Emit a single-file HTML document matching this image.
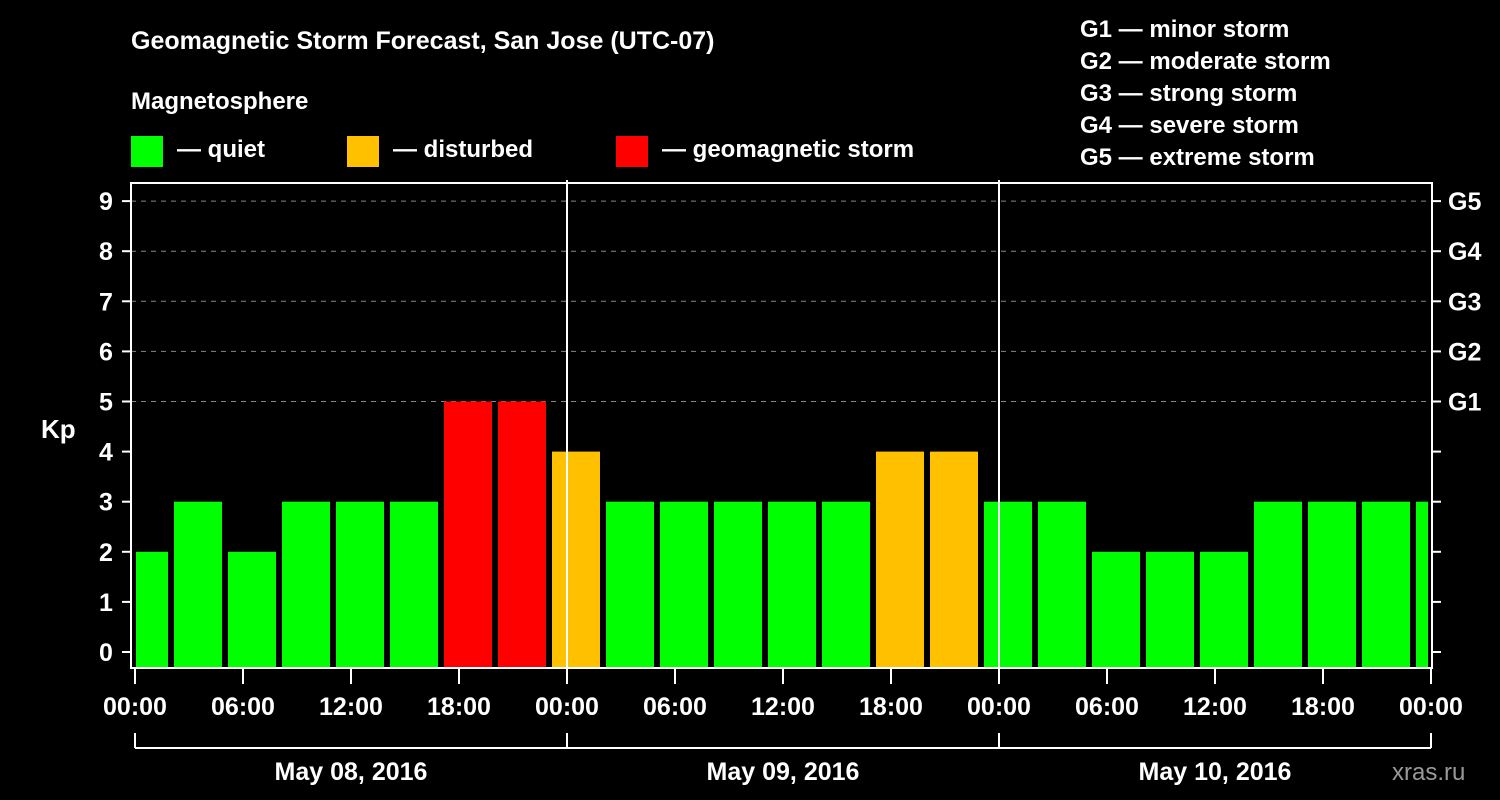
<!DOCTYPE html>
<html><head><meta charset="utf-8"><style>
html,body{margin:0;padding:0;background:#000;}
svg{display:block;font-family:"Liberation Sans",Arial,sans-serif;font-weight:bold;}
</style></head><body>
<svg id="chart" width="1500" height="800" viewBox="0 0 1500 800" xmlns="http://www.w3.org/2000/svg">
<rect width="1500" height="800" fill="#000"/>
<text x="131" y="49" fill="#fff" font-size="25">Geomagnetic Storm Forecast, San Jose (UTC-07)</text>
<text x="131" y="109" fill="#fff" font-size="24">Magnetosphere</text>
<g><rect x="131" y="136" width="32" height="31" fill="#00ff00"/><text x="177" y="157" fill="#fff" font-size="24">— quiet</text></g>
<g><rect x="347" y="136" width="32" height="31" fill="#ffc000"/><text x="393" y="157" fill="#fff" font-size="24">— disturbed</text></g>
<g><rect x="616" y="136" width="32" height="31" fill="#ff0000"/><text x="662" y="157" fill="#fff" font-size="24">— geomagnetic storm</text></g>
<g fill="#fff" font-size="24">
<text x="1080" y="37">G1 — minor storm</text>
<text x="1080" y="69">G2 — moderate storm</text>
<text x="1080" y="101">G3 — strong storm</text>
<text x="1080" y="133">G4 — severe storm</text>
<text x="1080" y="165">G5 — extreme storm</text>
</g>
<text x="41" y="438" fill="#fff" font-size="26">Kp</text>
<text x="1392" y="780" fill="#999" font-size="24" font-weight="normal">xras.ru</text>
<g id="grid"></g><g id="bars"></g><g id="axes"></g>
</svg>
<script>
const kpValues=[2,3,2,3,3,3,5,5,4,3,3,3,3,3,4,4,3,3,2,2,2,3,3,3,3];
const yTicks=[0,1,2,3,4,5,6,7,8,9];
const gLabels=["G1","G2","G3","G4","G5"];
const gLevels=[5,6,7,8,9];
const xTickLabels=["00:00","06:00","12:00","18:00","00:00","06:00","12:00","18:00","00:00","06:00","12:00","18:00","00:00"];
const dayLabels=["May 08, 2016","May 09, 2016","May 10, 2016"];
const firstBarHour=-1, barHours=3;
const NS="http://www.w3.org/2000/svg";
const L=131,R=1432,T=183,B=668,X0=135,PXH=18;
const y=k=>652-k*50.1;
const x=h=>X0+h*PXH;
function mk(tag,attrs,parent,text){const e=document.createElementNS(NS,tag);for(const k in attrs)e.setAttribute(k,attrs[k]);if(text!==undefined)e.textContent=text;parent.appendChild(e);return e;}
const grid=document.getElementById('grid'),bars=document.getElementById('bars'),axes=document.getElementById('axes');
gLevels.forEach((g,i)=>{
 const l=mk('line',{x1:L,x2:R,y1:y(g),y2:y(g),stroke:'#888','stroke-width':1,'stroke-dasharray':'5,5'},grid);
 
 
 const t=mk('text',{x:1448,y:y(g)+9,fill:'#fff','font-size':25},axes,gLabels[i]);
 
 
});
kpValues.forEach((v,i)=>{
 const h=firstBarHour+i*barHours;
 let x1=x(h)+3,x2=x(h+barHours)-3;
 x1=Math.max(x1,136);x2=Math.min(x2,1428);
 const c=v>=5?'#ff0000':(v>=4?'#ffc000':'#00ff00');
 const r=mk('rect',{x:x1,y:y(v),width:x2-x1,height:B-y(v),fill:c},bars);
 
 
});
mk('rect',{x:L,y:T,width:R-L,height:B-T,fill:'none',stroke:'#fff','stroke-width':2},axes);
[1,2].forEach(d=>{const l=mk('line',{x1:x(d*24),x2:x(d*24),y1:180,y2:B,stroke:'#fff','stroke-width':2},axes);
 
 });
yTicks.forEach(k=>{
 mk('line',{x1:122,x2:L,y1:y(k),y2:y(k),stroke:'#fff','stroke-width':2},axes);
 mk('line',{x1:R,x2:1441,y1:y(k),y2:y(k),stroke:'#fff','stroke-width':2},axes);
 const t=mk('text',{x:106,y:y(k)+9,fill:'#fff','font-size':25,'text-anchor':'middle'},axes,String(k));
 
 
});
xTickLabels.forEach((s,i)=>{
 const xx=x(i*6);
 mk('line',{x1:xx,x2:xx,y1:B,y2:684,stroke:'#fff','stroke-width':2},axes);
 const t=mk('text',{x:xx,y:715,fill:'#fff','font-size':25,'text-anchor':'middle'},axes,s);
 
 
});
mk('line',{x1:x(0),x2:x(72),y1:748,y2:748,stroke:'#fff','stroke-width':2},axes);
[0,1,2,3].forEach(d=>mk('line',{x1:x(d*24),x2:x(d*24),y1:733,y2:748,stroke:'#fff','stroke-width':2},axes));
dayLabels.forEach((s,i)=>{
 const t=mk('text',{x:x(i*24+12),y:780,fill:'#fff','font-size':25,'text-anchor':'middle'},axes,s);
 
 
});
</script>
</body></html>
